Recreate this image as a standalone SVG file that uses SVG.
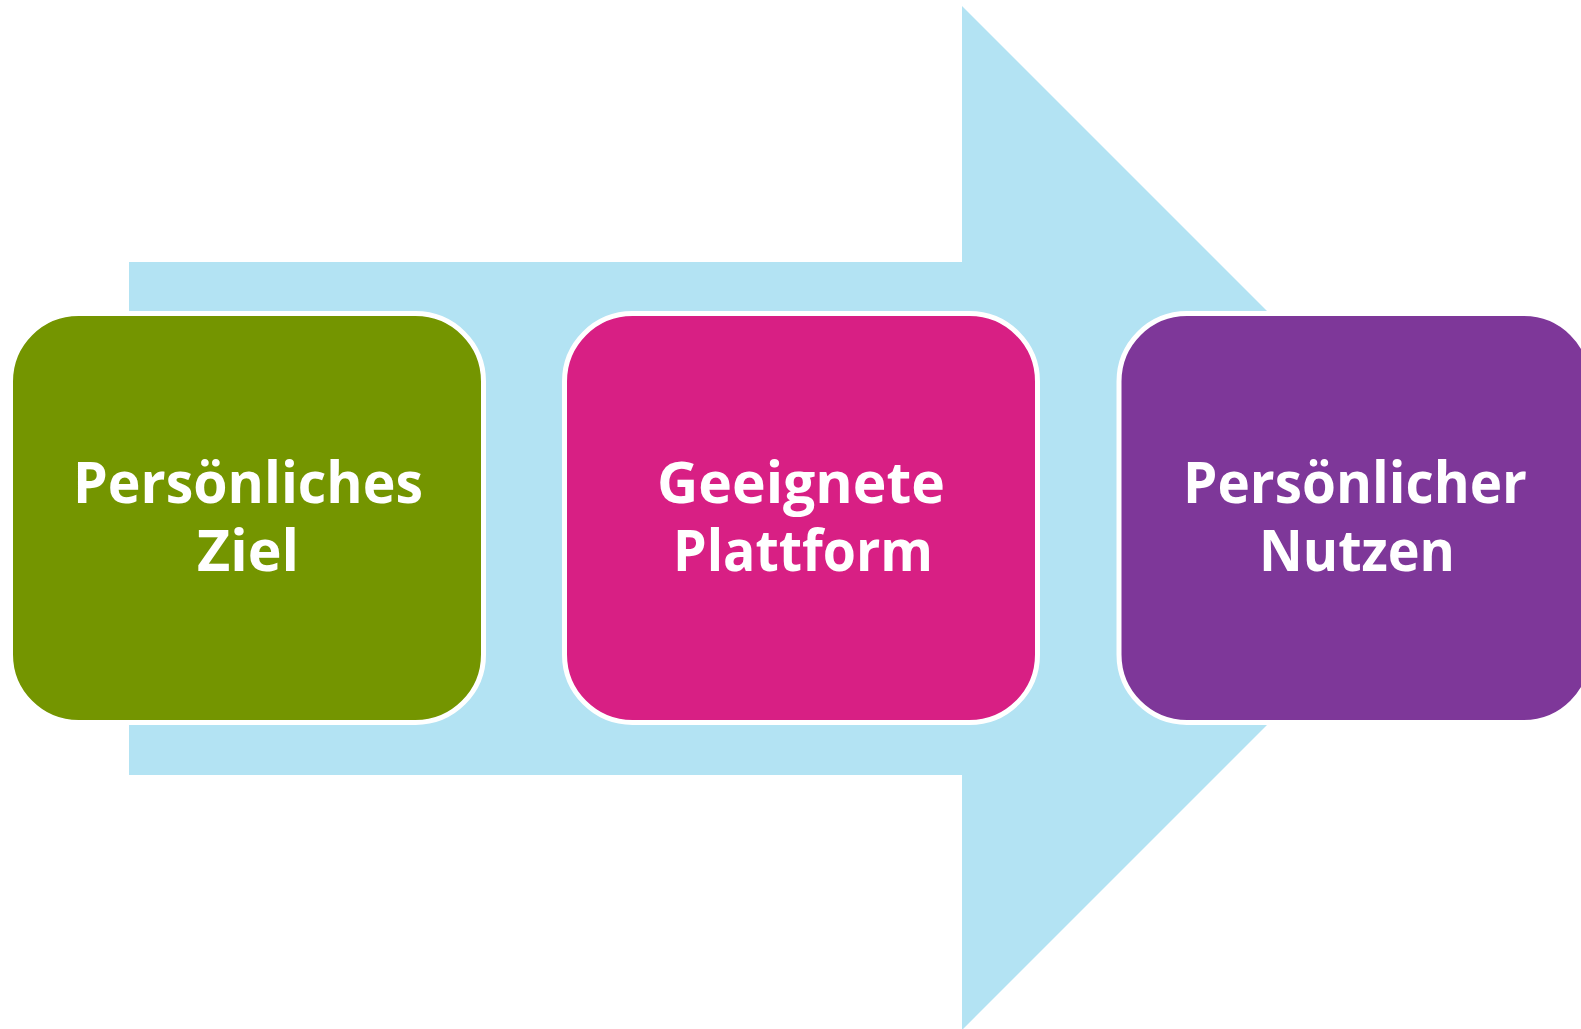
<svg xmlns="http://www.w3.org/2000/svg" width="1581" height="1029" viewBox="0 0 1581 1029">
<style>
.box{stroke:#FFFFFF;stroke-width:5}
.lbl{font-family:"Open Sans",Lato,"Liberation Sans",sans-serif;font-weight:700;font-size:58px;fill:#FFFFFF;text-anchor:middle}
</style>
<rect width="1581" height="1029" fill="#FFFFFF"/>
<g id="connectors">
<polygon id="arrow" points="129,262 962,262 962,6 1474,518 962,1030 962,775 129,775" fill="#B3E3F3"/>
</g>
<g id="node1">
<rect class="box" x="10.5" y="313.5" width="473" height="409" rx="68" fill="#749500"/>
<text class="lbl" x="248" y="503" textLength="350" lengthAdjust="spacingAndGlyphs">Persönliches</text>
<text class="lbl" x="248" y="571" textLength="102" lengthAdjust="spacingAndGlyphs">Ziel</text>
</g>
<g id="node2">
<rect class="box" x="564.5" y="313.5" width="473" height="409" rx="68" fill="#D81F84"/>
<text class="lbl" x="801" y="503" textLength="288" lengthAdjust="spacingAndGlyphs">Geeignete</text>
<text class="lbl" x="803" y="571" textLength="260" lengthAdjust="spacingAndGlyphs">Plattform</text>
</g>
<g id="node3">
<rect class="box" x="1119" y="313.5" width="473" height="409" rx="68" fill="#7E3799"/>
<text class="lbl" x="1355" y="503" textLength="344" lengthAdjust="spacingAndGlyphs">Persönlicher</text>
<text class="lbl" x="1357" y="571" textLength="196" lengthAdjust="spacingAndGlyphs">Nutzen</text>
</g>
</svg>
